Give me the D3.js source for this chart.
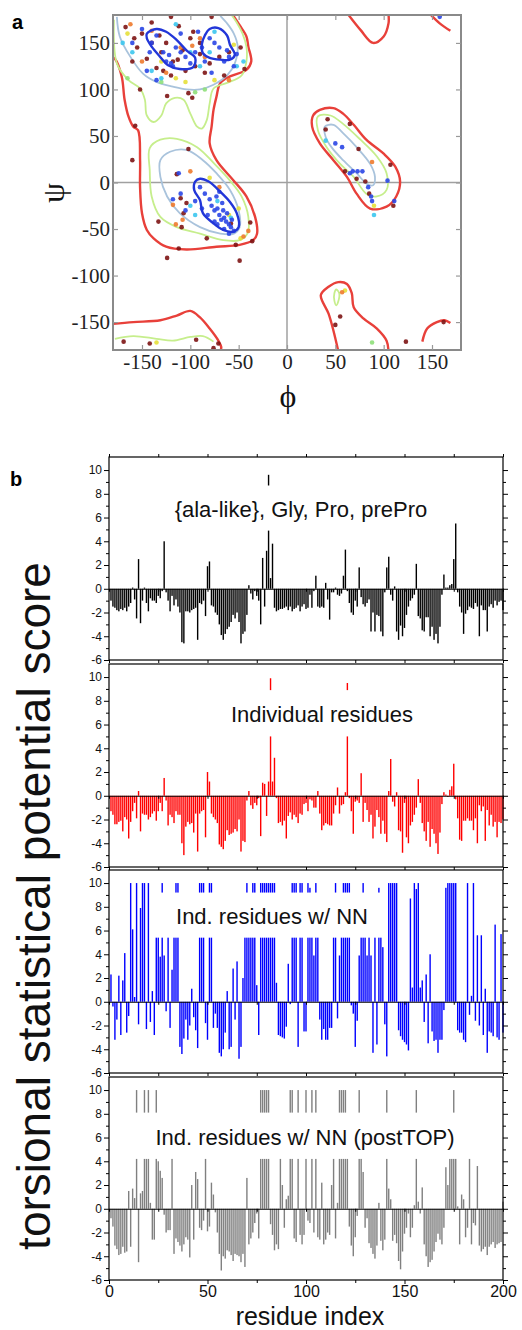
<!DOCTYPE html>
<html>
<head>
<meta charset="utf-8">
<script src="https://cdn.jsdelivr.net/npm/d3@7"></script>
<style>
  body { margin: 0; background: #fff; }
</style>
</head>
<body>
<svg id="fig"></svg>
<script>
// ---------- panel a : Ramachandran plot ----------
const phiTicks = [-150, -100, -50, 0, 50, 100, 150];
const psiTicks = [-150, -100, -50, 0, 50, 100, 150];

// contour lines [phi, psi]
const redContours = [
  { closed: false, pts: [[-56,180],[-49,169],[-42,157],[-40,146],[-37,130],[-42,121],[-59,114],[-69,107],[-73,92],[-76,78],[-78,60],[-80,42],[-73,24],[-56,3],[-42,-15],[-33,-37],[-31,-55],[-35,-62],[-49,-67],[-73,-69],[-104,-72],[-125,-69],[-138,-60],[-145,-51],[-150,-33],[-152,-5],[-152,24],[-154,56],[-159,60],[-164,71],[-168,89],[-171,114],[-178,133],[-181,135]] },
  { closed: true,  pts: [[27,72],[34,78],[48,80],[58,74],[69,62],[82,46],[100,31],[112,17],[117,1],[113,-15],[103,-26],[86,-28],[72,-12],[62,6],[48,24],[34,42],[26,60]] },
  { closed: false, pts: [[63,181],[76,164],[89,150],[100,157],[105,171],[105,181]] },
  { closed: false, pts: [[148,181],[158,171],[169,163]] },
  { closed: false, pts: [[53,-181],[48,-159],[43,-141],[35,-121],[43,-112],[53,-107],[62,-109],[67,-119],[69,-134],[79,-146],[93,-157],[103,-170],[105,-181]] },
  { closed: false, pts: [[140,-171],[145,-157],[155,-150],[163,-148],[169,-151]] },
  { closed: false, pts: [[-181,-152],[-159,-150],[-131,-148],[-114,-143],[-100,-138],[-90,-145],[-80,-157],[-71,-170],[-68,-177],[-69,-181]] }
];
const greenContours = [
  { closed: false, pts: [[-179,175],[-176,128],[-164,110],[-152,101],[-147,89],[-145,72],[-138,65],[-130,72],[-125,85],[-116,91],[-107,89],[-100,74],[-93,60],[-88,58],[-83,67],[-80,85],[-76,101],[-62,107],[-47,115],[-42,130],[-42,146],[-46,160],[-52,172],[-58,181]] },
  { closed: true,  pts: [[-142,37],[-131,46],[-114,47],[-93,38],[-75,20],[-59,2],[-47,-15],[-40,-37],[-41,-55],[-49,-62],[-66,-62],[-90,-55],[-114,-48],[-131,-37],[-140,-15],[-142,13]] },
  { closed: true,  pts: [[32,71],[45,72],[58,63],[76,46],[93,28],[103,10],[103,-8],[93,-15],[82,-12],[69,6],[55,20],[41,38],[32,56]] },
  { closed: false, pts: [[-178,-168],[-159,-165],[-135,-168],[-118,-170],[-100,-166],[-87,-165],[-76,-171]] },
  { closed: true,  pts: [[49,-119],[51,-115],[54,-119],[53,-128],[51,-132],[49,-127]] }
];
const lightBlueContours = [
  { closed: false, pts: [[-176,178],[-173,157],[-162,135],[-149,117],[-135,108],[-118,103],[-104,100],[-90,100],[-76,105],[-62,115],[-54,128],[-51,146],[-55,160],[-62,171],[-69,179]] },
  { closed: true,  pts: [[-131,24],[-121,33],[-104,35],[-87,24],[-73,10],[-59,-8],[-50,-30],[-49,-48],[-55,-55],[-69,-55],[-90,-48],[-111,-33],[-124,-15],[-131,6]] },
  { closed: true,  pts: [[39,60],[48,62],[58,53],[72,38],[86,20],[91,6],[89,-3],[82,-1],[72,10],[58,24],[46,38],[40,49]] }
];
const darkBlueContours = [
  { closed: true, pts: [[-145,160],[-135,165],[-125,162],[-114,153],[-104,142],[-95,134],[-97,124],[-111,122],[-123,126],[-132,136],[-140,146],[-145,155]] },
  { closed: true, pts: [[-85,158],[-80,165],[-71,166],[-62,158],[-59,148],[-54,137],[-59,132],[-69,132],[-80,134],[-87,139],[-88,149]] },
  { closed: true, pts: [[-95,1],[-90,4],[-81,1],[-69,-10],[-59,-21],[-52,-33],[-50,-48],[-56,-53],[-66,-51],[-76,-44],[-87,-33],[-90,-19],[-96,-8]] }
];

// residue dots [phi, psi], one list per colour
const dotsMaroon = [[-167,167],[-158,155],[-155,145],[-150,160],[-145,133],[-140,150],[-135,123],[-130,140],[-125,150],[-120,115],[-118,130],[-112,168],[-108,142],[-105,120],[-100,155],[-97,162],[-95,125],[-90,150],[-85,118],[-80,128],[-70,135],[-65,115],[-60,140],[-48,145],[-44,122],[-160,130],[-152,100],[-124,93],[-102,96],[-98,91],[-140,172],[-120,178],[-78,178],[-128,120],[-113,132],[-90,138],[-132,158],
  [-157,61],[-160,24],[-102,36],[-114,9],[-110,-17],[-107,-33],[-133,-42],[-112,-71],[-124,-81],[-49,-84],[-53,-67],[-36,-63],[-38,-43],[-83,-60],[-109,-48],[-104,-22],[-58,-44],
  [42,68],[40,57],[65,63],[74,36],[60,12],[72,4],[81,1],[107,19],[110,-25],[85,-12],
  [55,-144],[50,-153],[123,-171],[162,-150],[-169,-171],[-142,-173],[-94,-169],[-71,-173],[-76,-178]];
const dotsBlue = [[-150,165],[-140,150],[-135,158],[-128,140],[-125,130],[-122,137],[-118,125],[-115,145],[-110,140],[-105,135],[-100,128],[-95,140],[-88,145],[-80,155],[-75,150],[-70,145],[-65,130],[-60,135],[-55,125],[-160,150],[-145,120],[-135,110],[-78,118],[-52,138],[-110,160],[-92,162],[-120,128],[-62,142],[-85,130],[-142,140],
  [-90,-5],[-85,-12],[-80,-18],[-78,-25],[-75,-30],[-72,-28],[-70,-35],[-68,-40],[-65,-38],[-63,-42],[-60,-45],[-58,-48],[-62,-33],[-67,-22],[-73,-15],[-55,-52],[-57,-40],[-65,-50],[-75,-42],[-82,-35],[-88,-28],[-95,-20],[-110,-12],[-118,-18],[-112,10],[-105,-30],[-70,-10],[-60,-55],[-66,-30],[-72,-45],
  [50,42],[57,38],[68,12],[73,12],[78,12],[65,10],[84,-5],[87,-15],[88,-20],[104,2],[111,-20],[158,178]];
const dotsCyan = [[-170,150],[-160,140],[-140,120],[-130,112],[-90,125],[-80,140],[-75,162],[-52,125],[-45,130],[-100,-25],[-95,-35],[-72,-20],[-58,-38],[40,45],[90,-35],[-115,170],[-100,140]];
const dotsOrange = [[-162,170],[-150,130],[-140,163],[-125,118],[-110,145],[-98,147],[-90,155],[-85,135],[-60,110],[-100,12],[-108,-40],[-115,-45],[-70,-5],[-45,-58],[-40,-52],[57,-118],[88,22],[-118,-24]];
const dotsYellow = [[-165,160],[-130,130],[-115,112],[-75,110],[-55,148],[-80,5],[-60,-35],[-50,-28],[-48,-60],[-135,-172],[60,-116],[90,-25],[-105,108]];
const dotsGreen = [[-95,97],[-130,108],[-165,112],[88,-172],[-85,100]];

// ---------- panel b : torsional statistical potential score ----------
const yTicksMajor = [-6, -4, -2, 0, 2, 4, 6, 8, 10];
const yTicksMinor = [-5, -3, -1, 1, 3, 5, 7, 9];
const xTicksLabel = [0, 50, 100, 150, 200];
const xTicksAll = [0, 25, 50, 75, 100, 125, 150, 175, 200];

const titles = ["{ala-like}, Gly, Pro, prePro", "Individual residues", "Ind. residues w/ NN", "Ind. residues w/ NN (postTOP)"];

const scoreAlaGlyProPrePro = [
  -1.0,-1.5,-1.6,-1.8,-1.9,-1.7,-1.8,-1.6,-1.9,-1.5,-1.2,0.1,-0.9,-2.5,2.5,-2.9,-1.0,0.1,-1.2,-1.9,
  -0.8,-1.0,-1.0,-1.2,-0.6,-0.8,-0.2,4.0,-0.3,-1.0,-1.9,-0.6,-1.4,-0.9,-1.5,-2.0,-4.5,-4.6,-1.9,-1.9,
  -2.0,-1.8,-1.7,-1.6,-4.3,-1.2,-1.3,-1.0,-2.3,1.9,2.3,-1.4,-1.5,-2.0,-2.2,-3.0,-3.9,-4.3,-3.8,-3.4,
  -3.2,-2.8,-2.2,-2.5,-2.0,-2.8,-4.6,-3.8,-3.6,-2.2,0.3,-0.4,-0.9,-0.2,-0.6,-1.0,-3.0,2.6,-1.5,3.2,
  9.6,0.9,3.8,-1.6,-1.9,-1.8,-1.7,-1.7,-1.6,-1.5,-1.8,-1.5,-1.9,-1.7,-1.6,-1.4,-1.9,-1.5,-1.3,-1.7,
  -1.6,-0.5,-1.6,-0.2,1.1,-1.5,-1.6,-1.5,-1.6,0.5,-0.9,-2.6,-0.3,-0.3,0.1,-0.5,-0.6,-0.4,1.1,3.3,
  -0.2,-1.2,-2.0,-2.2,-1.0,-1.5,1.8,-0.7,-1.3,-1.5,-1.2,-0.9,-3.6,-2.0,-3.6,-2.2,-2.3,-3.6,-4.0,-0.3,
  1.8,2.7,-0.5,-1.0,0.2,-3.6,-4.3,-3.1,-4.0,-3.3,-2.2,-1.5,-1.0,-0.8,-0.5,2.1,-2.3,-2.5,-3.5,-3.6,
  -2.4,-2.4,-4.0,-3.2,-4.3,-3.8,-4.6,-3.2,-0.5,1.2,0.1,0.1,0.3,0.4,2.5,5.5,-0.3,-1.5,-2.0,-3.8,
  -2.1,-1.8,-1.5,-1.6,-1.7,-1.2,-1.5,-4.0,-1.4,-1.8,-1.8,-3.6,-1.5,-1.3,-1.6,-1.0,-1.4,-1.1,-1.0,-1.8
];
const scoreIndividual = [
  -1.3,-1.6,-2.4,-2.4,-2.2,-2.1,-3.0,-1.8,-2.0,-3.6,-2.2,-1.3,-0.6,-1.9,0.4,-3.0,-1.5,-1.6,-1.6,-2.0,
  -1.8,-1.5,-1.3,-2.1,-1.3,-0.6,-1.3,1.5,-0.4,-2.5,-1.6,-1.8,-2.3,-1.3,-1.6,-1.6,-4.0,-5.0,-2.6,-2.2,
  -2.4,-2.3,-3.1,-1.5,-4.7,-1.5,-1.3,-1.2,-3.5,2.0,1.2,-1.5,-1.8,-2.0,-2.3,-4.1,-4.3,-4.5,-3.8,-2.9,
  -3.3,-3.2,-3.1,-2.8,-3.0,-2.0,-4.7,-3.8,-3.9,-0.4,0.4,-0.8,-1.1,-0.6,-0.8,-0.2,-3.4,1.1,1.0,-1.7,
  1.2,9.9,1.2,3.2,-0.2,-2.3,-2.2,-2.5,-2.1,-3.6,-1.7,-1.4,-2.0,-1.6,-1.8,-2.3,-1.5,-1.6,-0.7,-0.6,
  -1.3,-0.3,-0.4,-1.0,-1.0,0.4,-1.5,-2.9,-2.5,-2.3,-2.4,-2.5,-2.5,-1.5,-0.8,0.7,-1.5,-0.8,-0.7,0.3,
  9.5,-0.2,-1.3,-3.2,-0.5,-0.4,-0.6,1.9,-2.2,-0.6,-1.2,-2.2,-1.6,-3.6,-2.6,-1.2,-1.8,-3.2,-2.1,-3.2,
  -3.9,0.4,3.1,-0.5,-0.9,0.3,-2.9,-3.0,-4.8,-0.6,-3.5,-4.0,-2.5,-2.2,-1.6,-1.0,1.4,-0.6,-2.3,-3.0,
  -3.8,-2.2,-4.3,-2.8,-3.2,-4.0,-4.9,-3.1,-0.7,0.3,0.1,-0.1,0.5,0.8,2.7,-0.3,-1.9,-3.7,-3.8,-2.1,
  -2.1,-1.9,-2.1,-2.1,-2.9,-1.9,-4.0,-0.8,-1.3,-0.9,-3.8,-1.2,-2.5,-1.6,-2.6,-2.2,-3.5,-2.2,-2.3,-2.0
];
const scoreIndNN = [
  2.3,-0.4,-3.2,-1.5,2.2,-2.8,1.8,4.1,-2.6,-1.2,10,6.1,0.4,10,-1.9,7.9,10,10,-2.3,10,
  -1.7,0.9,-2.8,7.0,7.0,3.8,10,3.9,-0.8,7.0,-2.2,2.7,7.0,10,10,-3.8,-4.4,-3.1,-1.5,-3.2,
  -2.0,1.1,-1.3,-2.4,-3.9,10,10,10,-1.8,-3.2,10,10,-2.2,-1.0,-2.2,-4.3,-4.6,-4.0,-2.6,0.9,
  -4.0,-3.8,2.8,-1.5,3.4,-4.8,-3.8,2.0,7.0,10,7.0,7.0,10,10,1.4,-2.8,10,10,10,10,
  10,10,10,10,1.6,-2.8,-2.9,-3.0,-3.1,-2.1,3.2,-0.2,10,10,10,-3.8,10,10,-2.5,-2.5,
  10,9.6,7.0,3.9,10,7.0,-1.5,-3.2,-2.3,-3.2,-3.2,-2.2,-2.2,7.0,10,-1.4,3.9,7.0,10,10,
  10,10,-0.3,-1.0,-3.8,-1.6,3.9,7.0,10,7.0,3.9,7.0,3.9,-4.3,7.0,-3.6,9.6,7.0,4.6,-1.9,
  -4.6,10,10,10,10,10,-2.4,-2.9,-3.2,-3.4,-3.6,-4.1,8.7,1.2,10,9.5,10,1.2,1.8,-1.7,
  2.3,-3.5,4.0,-2.5,-3.3,-3.2,-4.3,-3.2,-3.2,-0.7,9.6,10,10,10,10,10,-2.4,-2.6,-2.6,-3.2,
  -3.4,10,-1.1,0.5,10,-1.6,5.6,-2.0,5.6,-2.8,1.1,-4.3,-2.5,-2.6,-2.9,6.5,-3.0,-3.2,5.7,-2.6
];
const scoreIndNNpostTOP = [
  -0.8,-1.5,-3.1,-3.4,-3.9,-3.8,-3.2,-3.7,-3.6,1.5,-3.2,1.7,0.9,10,-4.5,1.3,1.5,10,6.0,10,
  0.5,-2.6,-2.6,10,4.0,3.2,2.6,-0.5,-2.0,-1.8,-1.8,6.0,-3.8,-2.5,-2.8,-3.1,-3.6,-3.0,-2.4,-2.6,
  -4.1,2.0,-2.6,3.1,2.5,-1.6,-1.8,-1.0,6.0,-1.9,-1.5,2.2,1.2,-0.3,-2.0,-3.8,-5.2,-4.0,-4.2,-3.5,
  -3.6,-3.9,-4.4,-3.8,-3.9,-4.0,-4.5,-3.8,-4.9,2.6,-3.0,-2.5,-2.0,-1.2,-0.4,-2.5,10,10,10,10,
  10,-1.3,-2.2,-3.5,-3.0,-3.4,6.0,2.0,-1.6,0.8,1.1,10,10,-2.5,-2.8,10,-2.2,-3.0,-2.2,10,
  -1.0,-1.2,10,-2.0,10,-2.4,-2.6,2.2,-3.0,-2.6,-2.0,-2.2,2.0,6.0,-2.5,0.5,10,10,10,10,
  6.0,-1.5,-3.1,-4.0,-2.4,-0.6,10,6.0,3.1,-1.6,-0.8,-2.9,-3.3,-3.8,-4.2,-3.1,0.5,-2.7,-3.5,-2.6,
  10,1.7,0.8,-2.7,-2.2,-2.9,-4.4,-5.1,-3.6,-2.1,-1.6,-0.4,-2.4,-1.6,0.3,10,0.6,-0.4,1.8,-3.0,
  -4.0,-4.9,-4.5,-4.3,-3.6,-2.8,-2.1,-2.6,-3.0,-1.6,3.5,2.0,6.0,6.0,10,6.0,0.2,-3.0,1.2,0.8,
  -2.4,-1.6,4.2,-3.0,-1.2,-1.4,3.6,-3.1,-3.6,-3.4,-3.2,-3.9,-3.2,-3.0,-2.8,-3.3,-3.0,-2.9,-2.8,0.6
];

// ---------- drawing ----------
const W = 522, H = 1330;
const sans = "'Liberation Sans', Arial, Helvetica, sans-serif";
const serif = "'Liberation Serif', 'Times New Roman', serif";

const svg = d3.select("#fig").attr("width", W).attr("height", H)
  .style("background", "#fff");

// panel a
const xA = d3.scaleLinear().domain([-180, 180]).range([113, 461]);
const yA = d3.scaleLinear().domain([-180, 180]).range([350, 15]);

svg.append("text").attr("x", 12).attr("y", 29)
  .attr("font-family", sans).attr("font-weight", "bold").attr("font-size", 20).text("a");

svg.append("defs").append("clipPath").attr("id", "clipA")
  .append("rect").attr("x", 113).attr("y", 15).attr("width", 348).attr("height", 335);

const gA = svg.append("g").attr("clip-path", "url(#clipA)");

gA.append("line").attr("x1", xA(0)).attr("x2", xA(0)).attr("y1", yA(-180)).attr("y2", yA(180))
  .attr("stroke", "#a0a0a0").attr("stroke-width", 1.5);
gA.append("line").attr("x1", xA(-180)).attr("x2", xA(180)).attr("y1", yA(0)).attr("y2", yA(0))
  .attr("stroke", "#a0a0a0").attr("stroke-width", 1.5);

const lineOpen = d3.line().x(d => xA(d[0])).y(d => yA(d[1])).curve(d3.curveCatmullRom.alpha(0.5));
const lineClosed = d3.line().x(d => xA(d[0])).y(d => yA(d[1])).curve(d3.curveCatmullRomClosed.alpha(0.5));

function drawContours(list, color, width) {
  gA.append("g").selectAll("path").data(list).join("path")
    .attr("d", d => (d.closed ? lineClosed : lineOpen)(d.pts))
    .attr("fill", "none").attr("stroke", color).attr("stroke-width", width)
    .attr("stroke-linejoin", "round");
}
drawContours(redContours, "#e8403a", 2.4);
drawContours(greenContours, "#c6ee8c", 1.8);
drawContours(lightBlueContours, "#a9c3dc", 1.8);

const dotSets = [
  [dotsMaroon, "#7d1414"],
  [dotsYellow, "#e6e03a"],
  [dotsGreen, "#8fe07a"],
  [dotsOrange, "#ee7a2c"],
  [dotsCyan, "#3cc6ee"],
  [dotsBlue, "#2a46e6"]
];
dotSets.forEach(([pts, col]) => {
  gA.append("g").selectAll("circle").data(pts).join("circle")
    .attr("cx", d => xA(d[0])).attr("cy", d => yA(d[1]))
    .attr("r", 2.3).attr("fill", col).attr("fill-opacity", 0.9);
});
drawContours(darkBlueContours, "#2236d8", 2.4);

svg.append("rect").attr("x", 113).attr("y", 15).attr("width", 348).attr("height", 335)
  .attr("fill", "none").attr("stroke", "#8a8a8a").attr("stroke-width", 2);

function styleAxis(g, font, size, color) {
  g.select(".domain").remove();
  g.selectAll(".tick line").attr("stroke", "#999").attr("stroke-width", 1.2);
  g.selectAll("text").attr("font-family", font).attr("font-size", size).attr("fill", color);
}
svg.append("g").attr("transform", "translate(113,0)")
  .call(d3.axisLeft(yA).tickValues(psiTicks).tickSize(-5).tickPadding(3).tickFormat(d => String(d)))
  .call(g => styleAxis(g, serif, 21, "#222"));
svg.append("g").attr("transform", "translate(0,350)")
  .call(d3.axisBottom(xA).tickValues(phiTicks).tickSize(-5).tickPadding(4).tickFormat(d => String(d)))
  .call(g => styleAxis(g, serif, 21, "#222"));
svg.append("g").attr("transform", "translate(461,0)")
  .call(d3.axisRight(yA).tickValues(psiTicks).tickSize(-5).tickFormat(""))
  .call(g => styleAxis(g, serif, 21, "#222"));
svg.append("g").attr("transform", "translate(0,15)")
  .call(d3.axisTop(xA).tickValues(phiTicks).tickSize(-5).tickFormat(""))
  .call(g => styleAxis(g, serif, 21, "#222"));

svg.append("text").attr("transform", "translate(64,193) rotate(-90)")
  .attr("text-anchor", "middle").attr("font-family", serif).attr("font-size", 32).attr("fill", "#111").text("ψ");
svg.append("text").attr("x", 288).attr("y", 407)
  .attr("text-anchor", "middle").attr("font-family", serif).attr("font-size", 32).attr("fill", "#111").text("ϕ");

// panel b
svg.append("text").attr("x", 10).attr("y", 486)
  .attr("font-family", sans).attr("font-weight", "bold").attr("font-size", 20).text("b");

const xB = d3.scaleLinear().domain([0, 200]).range([109, 503]);
const panels = [
  { values: scoreAlaGlyProPrePro, color: "#000000", top: 457, titleX: 301, box: [163, 439] },
  { values: scoreIndividual,      color: "#ff0000", top: 664, titleX: 322, box: [225, 420] },
  { values: scoreIndNN,           color: "#0000ff", top: 870, titleX: 272, box: [155, 385] },
  { values: scoreIndNNpostTOP,    color: "#808080", top: 1077, titleX: 305, box: [134, 466] }
];
const panelH = 203;
const boxRange = [[8.7, 4.9], [8.9, 5.0], [9.2, 5.4], [8.1, 4.2]];

panels.forEach((p, k) => {
  const y = d3.scaleLinear().domain([-6, 11.1]).range([p.top + panelH, p.top]);
  const g = svg.append("g");

  g.append("g").selectAll("rect").data(p.values).join("rect")
    .attr("x", (d, i) => xB(i + 1) - 0.7)
    .attr("width", 1.4)
    .attr("y", d => y(Math.max(0, Math.min(d, 10))))
    .attr("height", d => Math.abs(y(Math.max(-6, Math.min(d, 10))) - y(0)))
    .attr("fill", p.color);

  // white label box behind the title
  g.append("rect")
    .attr("x", p.box[0]).attr("width", p.box[1] - p.box[0])
    .attr("y", y(boxRange[k][0])).attr("height", y(boxRange[k][1]) - y(boxRange[k][0]))
    .attr("fill", "#fff");
  g.append("text").attr("x", p.titleX).attr("y", y(boxRange[k][1]) - 14)
    .attr("text-anchor", "middle").attr("font-family", sans).attr("font-size", 22)
    .attr("fill", "#111").text(titles[k]);

  // zero line with small ticks
  g.append("g").attr("transform", `translate(0,${y(0)})`)
    .call(d3.axisBottom(xB).tickValues(xTicksAll).tickSize(3).tickSizeOuter(0).tickFormat(""))
    .call(a => a.select(".domain").attr("stroke", "#000").attr("stroke-width", 1.2));

  // frame
  g.append("rect").attr("x", xB(0)).attr("y", p.top).attr("width", xB(200) - xB(0)).attr("height", panelH)
    .attr("fill", "none").attr("stroke", "#000").attr("stroke-width", 1.2);

  // y axes left and right
  g.append("g").attr("transform", `translate(${xB(0)},0)`)
    .call(d3.axisLeft(y).tickValues(yTicksMajor).tickSize(5).tickPadding(2).tickFormat(d => String(d)))
    .call(a => { a.select(".domain").remove();
      a.selectAll("text").attr("font-family", sans).attr("font-size", 12).attr("fill", "#111"); });
  g.append("g").attr("transform", `translate(${xB(0)},0)`)
    .call(d3.axisLeft(y).tickValues(yTicksMinor).tickSize(3).tickFormat(""))
    .call(a => a.select(".domain").remove());
  g.append("g").attr("transform", `translate(${xB(200)},0)`)
    .call(d3.axisRight(y).tickValues(yTicksMajor).tickSize(5).tickFormat(""))
    .call(a => a.select(".domain").remove());
  g.append("g").attr("transform", `translate(${xB(200)},0)`)
    .call(d3.axisRight(y).tickValues(yTicksMinor).tickSize(3).tickFormat(""))
    .call(a => a.select(".domain").remove());

  // x ticks on bottom edge
  if (k < 3) {
    g.append("g").attr("transform", `translate(0,${p.top + panelH})`)
      .call(d3.axisBottom(xB).tickValues(xTicksAll).tickSize(3).tickFormat(""))
      .call(a => a.select(".domain").remove());
  } else {
    g.append("g").attr("transform", `translate(0,${p.top + panelH})`)
      .call(d3.axisBottom(xB).tickValues(xTicksLabel).tickSize(4).tickPadding(2).tickFormat(d => String(d)))
      .call(a => { a.select(".domain").remove();
        a.selectAll("text").attr("font-family", sans).attr("font-size", 16).attr("fill", "#111"); });
    g.append("g").attr("transform", `translate(0,${p.top + panelH})`)
      .call(d3.axisBottom(xB).tickValues([25, 75, 125, 175]).tickSize(3).tickFormat(""))
      .call(a => a.select(".domain").remove());
  }
  if (k === 0) {
    g.append("g").attr("transform", `translate(0,${p.top})`)
      .call(d3.axisTop(xB).tickValues(xTicksAll).tickSize(3).tickFormat(""))
      .call(a => a.select(".domain").remove());
  }
});

svg.append("text").attr("x", 310).attr("y", 1325)
  .attr("text-anchor", "middle").attr("font-family", sans).attr("font-size", 25).attr("fill", "#111")
  .text("residue index");

svg.append("text").attr("transform", "translate(50,906) rotate(-90)")
  .attr("text-anchor", "middle").attr("font-family", sans).attr("font-size", 46).attr("fill", "#111")
  .text("torsional statistical potential score");
</script>
</body>
</html>
